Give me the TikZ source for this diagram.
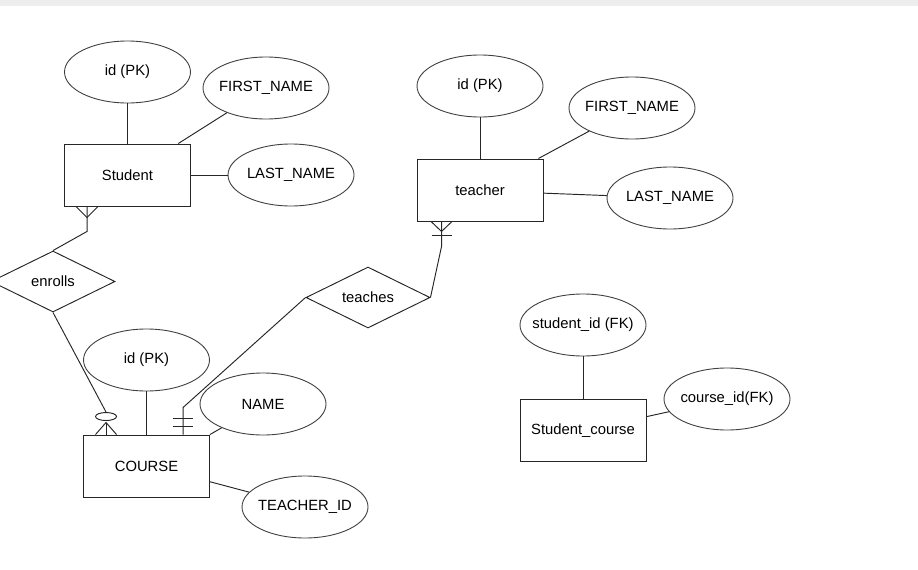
\documentclass[tikz,border=0pt]{standalone}
\usepackage{fontspec}
\setmainfont{Liberation Sans}
\usetikzlibrary{shapes.geometric,calc}
\newcommand{\erfont}{\fontsize{14.8}{17}\selectfont}
\begin{document}
\begin{tikzpicture}[x=1pt,y=-1pt,
  ln/.style={draw=black!85,line width=0.95pt},
  ent/.style={rectangle,draw=black!85,line width=0.95pt,minimum width=126pt,minimum height=62pt,inner sep=0pt,font=\erfont},
  attr/.style={ellipse,draw=black!75,line width=0.9pt,minimum width=126pt,minimum height=62pt,inner xsep=-25pt,inner ysep=0pt,font=\erfont},
  rel/.style={diamond,draw=black!85,line width=0.95pt,minimum width=124pt,minimum height=61pt,inner sep=0pt,aspect=2,font=\erfont}]
\useasboundingbox (0,0) rectangle (918,570);
\fill[black!7] (0,0) rectangle (918,6);

% entities and attributes
\node[ent] (student) at (127.5,175) {Student};
\node[attr] (sid) at (127.5,72) {id (PK)};
\node[attr] (sfirst) at (266,88) {FIRST\_NAME};
\node[attr] (slast) at (291,175) {LAST\_NAME};

\node[ent] (teacher) at (480,190) {teacher};
\node[attr] (tid) at (480,86) {id (PK)};
\node[attr] (tfirst) at (632,108) {FIRST\_NAME};
\node[attr] (tlast) at (670,198) {LAST\_NAME};

\node[ent] (course) at (146.5,466) {COURSE};
\node[attr] (cid) at (146.5,360) {id (PK)};
\node[attr] (cname) at (263,404) {NAME};
\node[attr] (ctid) at (305,507) {TEACHER\_ID};

\node[ent] (sc) at (583,430.5) {Student\_course};
\node[attr] (scs) at (583,325) {student\_id (FK)};
\node[attr] (scc) at (727,399) {course\_id(FK)};

\node[rel] (enrolls) at (53,281.5) {enrolls};
\node[rel] (teaches) at (368,297.5) {teaches};

% attribute links
\draw[ln] (sid.south) -- (student.north);
\draw[ln] ($(student.north west)!0.9!(student.north east)$) -- (sfirst);
\draw[ln] (student.east) -- (slast);
\draw[ln] (tid.south) -- (teacher.north);
\draw[ln] ($(teacher.north west)!0.96!(teacher.north east)$) -- (tfirst);
\draw[ln] ($(teacher.north east)!0.55!(teacher.south east)$) -- (tlast);
\draw[ln] (cid.south) -- (course.north);
\draw[ln] (course.north east) -- (cname);
\draw[ln] ($(course.north east)!0.75!(course.south east)$) -- (ctid);
\draw[ln] (scs.south) -- (sc.north);
\draw[ln] ($(sc.north east)!0.28!(sc.south east)$) -- (scc);

% Student -- enrolls (many)
\coordinate (sfoot) at ($(student.south west)+(23,0)$);
\draw[ln] (sfoot) -- ++(0,25) -- (enrolls.north);
\draw[ln] ($(sfoot)+(-11,0)$) -- ($(sfoot)+(0,11)$) -- ($(sfoot)+(11,0)$);

% enrolls -- COURSE (zero or many)
\coordinate (cfoot) at ($(course.north west)+(23,0)$);
\draw[ln] (cfoot) -- ++(0,-12);
\draw[ln] ($(cfoot)+(-10.5,0)$) -- ($(cfoot)+(0,-12)$) -- ($(cfoot)+(10.5,0)$);
\node[ellipse,draw=black!85,line width=0.95pt,minimum width=21pt,minimum height=8pt,inner sep=0pt] (coval) at ($(cfoot)+(0,-18)$) {};
\draw[ln] (coval.north) -- (enrolls.south);

% teacher -- teaches (one or many)
\coordinate (tfoot) at ($(teacher.south west)+(25,0)$);
\draw[ln] (tfoot) -- ++(0,25) -- (teaches.east);
\draw[ln] ($(tfoot)+(-10.5,0)$) -- ($(tfoot)+(0,10)$) -- ($(tfoot)+(10.5,0)$);
\draw[ln] ($(tfoot)+(-10,14)$) -- ($(tfoot)+(10,14)$);

% teaches -- COURSE (one and only one)
\coordinate (cone) at ($(course.north west)+(100,0)$);
\draw[ln] (cone) -- ++(0,-27) -- (teaches.west);
\draw[ln] ($(cone)+(-10,-8)$) -- ($(cone)+(10,-8)$);
\draw[ln] ($(cone)+(-10,-16)$) -- ($(cone)+(10,-16)$);
\end{tikzpicture}
\end{document}
